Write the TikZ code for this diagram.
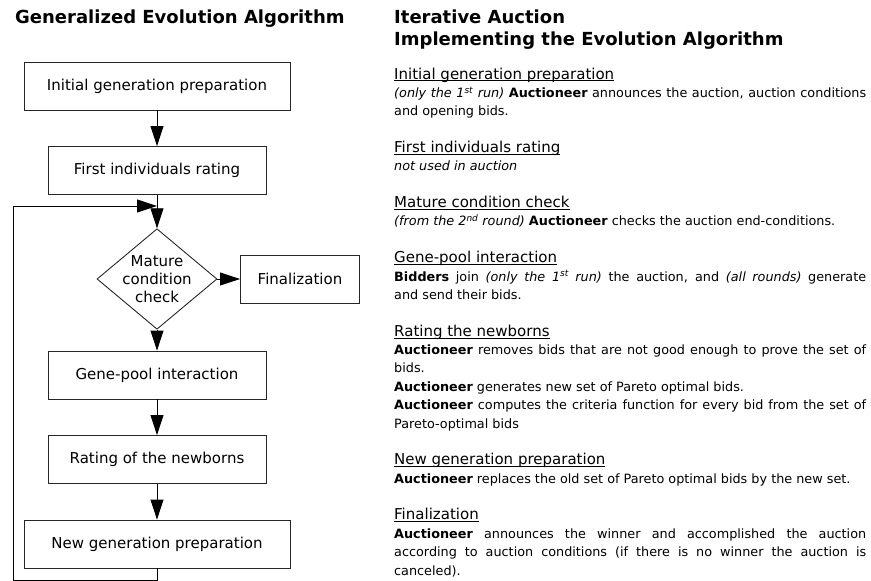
\documentclass[tikz,border=0pt]{standalone}
\usepackage{fontspec}
\setmainfont{DejaVu Sans}
\usetikzlibrary{arrows.meta,shapes.geometric}
\hyphenpenalty=10000
\exhyphenpenalty=10000
% underlined step heading in the description column
\newcommand{\headul}[1]{{\fontsize{15}{18.37}\selectfont\setbox0=\hbox{#1}\rlap{\rule[-2.2pt]{\wd0}{0.9pt}}\box0}}
\begin{document}
\begin{tikzpicture}[x=1pt,y=-1pt,font=\fontsize{15}{18}\selectfont,
  stepbox/.style={draw=black!85,line width=0.9pt,minimum height=48pt,inner sep=2pt,align=center},
  cond/.style={diamond,draw=black!85,line width=0.9pt,minimum width=120pt,minimum height=96pt,inner sep=-4pt,align=center},
  flow/.style={draw=black,line width=0.9pt,-{Triangle[length=20pt,width=13pt]}},
  ttl/.style={anchor=base west,inner sep=0pt,font=\fontsize{18}{22}\selectfont\bfseries},
  desc/.style={anchor=base west,text width=472pt,align=justify,inner sep=0pt,font=\fontsize{12.8}{18.37}\selectfont}]
  \useasboundingbox (0,0) rectangle (871,581);
  % titles
  \node[ttl] (ltitle) at (15,23) {Generalized Evolution Algorithm};
  \node[ttl] (rtitle) at (394,23) {Iterative Auction};
  \node[ttl] (rtitleb) at (394,45) {Implementing the Evolution Algorithm};
  % flow chart
  \node[stepbox,minimum width=266pt] (init) at (157,86) {Initial generation preparation};
  \node[stepbox,minimum width=218pt] (first) at (157,170.5) {First individuals rating};
  \node[cond] (mature) at (157,279) {Mature\\condition\\check};
  \node[stepbox,minimum width=119pt] (final) at (300,279) {Finalization};
  \node[stepbox,minimum width=218pt] (gene) at (157,375) {Gene-pool interaction};
  \node[stepbox,minimum width=218pt] (rating) at (157,459.5) {Rating of the newborns};
  \node[stepbox,minimum width=266pt] (newgen) at (157,544) {New generation preparation};
  \coordinate (loopbl) at (13,580);
  \coordinate (loopin) at (157,206);
  \draw[flow] (init) -- (first);
  \draw[flow] (first) -- (mature);
  \draw[flow] (mature) -- (final);
  \draw[flow] (mature) -- (gene);
  \draw[flow] (gene) -- (rating);
  \draw[flow] (rating) -- (newgen);
  \draw[flow] (newgen.south) |- (loopbl) |- (loopin);
  % description column
  \node[desc] (dinit) at (394,79) {\headul{Initial generation preparation}\\
    \textit{(only the 1\textsuperscript{st} run)} \textbf{Auctioneer} announces the auction, auction conditions and opening bids.};
  \node[desc] (dfirst) at (394,152.5) {\headul{First individuals rating}\\
    \textit{not used in auction}};
  \node[desc] (dmature) at (394,207.6) {\headul{Mature condition check}\\
    \textit{(from the 2\textsuperscript{nd} round)} \textbf{Auctioneer} checks the auction end-conditions.};
  \node[desc] (dgene) at (394,262.7) {\headul{Gene-pool interaction}\\
    \textbf{Bidders} join \textit{(only the 1\textsuperscript{st} run)} the auction, and \textit{(all rounds)} generate\linebreak and send their bids.};
  \node[desc] (drating) at (394,336.2) {\headul{Rating the newborns}\\
    \textbf{Auctioneer} removes bids that are not good enough to prove the set of bids.\\
    \textbf{Auctioneer} generates new set of Pareto optimal bids.\\
    \textbf{Auctioneer} computes the criteria function for every bid from the set of Pareto-optimal bids};
  \node[desc] (dnew) at (394,464.8) {\headul{New generation preparation}\\
    \textbf{Auctioneer} replaces the old set of Pareto optimal bids by the new set.};
  \node[desc] (dfinal) at (394,519.9) {\headul{Finalization}\\
    \textbf{Auctioneer} announces the winner and accomplished the auction according to auction conditions (if there is no winner the auction is canceled).};
\end{tikzpicture}
\end{document}
